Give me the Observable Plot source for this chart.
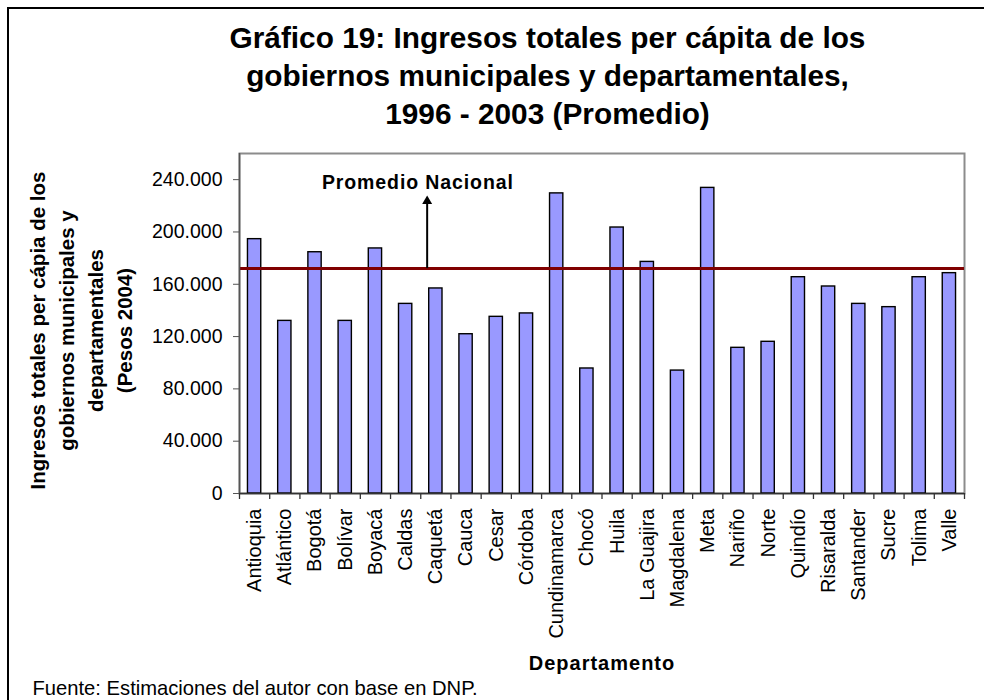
<!DOCTYPE html>
<html>
<head>
<meta charset="utf-8">
<script src="https://cdn.jsdelivr.net/npm/d3@7"></script>
<script src="https://cdn.jsdelivr.net/npm/@observablehq/plot@0.6"></script>
<style>
  html, body { margin: 0; padding: 0; background: #fff; }
  #chart svg { display: block; }
</style>
</head>
<body>
<div id="chart"></div>
<script>
// ---- Data ----
const departamentos = ["Antioquia", "Atlántico", "Bogotá", "Bolívar", "Boyacá", "Caldas", "Caquetá", "Cauca", "Cesar", "Córdoba", "Cundinamarca", "Chocó", "Huila", "La Guajira", "Magdalena", "Meta", "Nariño", "Norte", "Quindío", "Risaralda", "Santander", "Sucre", "Tolima", "Valle"];
const ingresosPerCapita = [194500, 132000, 184500, 132000, 187400, 145000, 156800, 121800, 135100, 137700, 229500, 95600, 203400, 177100, 94000, 233700, 111400, 116000, 165400, 158300, 145000, 142500, 165400, 168500];
const promedioNacional = 172000;
const yTicks = [0, 40000, 80000, 120000, 160000, 200000, 240000];
const yMax = 260000;

const titulo = "Gráfico 19: Ingresos totales per cápita de los\ngobiernos municipales y departamentales,\n1996 - 2003 (Promedio)";
const tituloY = "Ingresos totales per cápia de los\ngobiernos municipales y\ndepartamentales\n(Pesos 2004)";
const tituloX = "Departamento";
const etiquetaPromedio = "Promedio Nacional";
const fuente = "Fuente: Estimaciones del autor con base en DNP.";

const data = departamentos.map((d, i) => ({dept: d, value: ingresosPerCapita[i]}));

// ---- Layout ----
const W = 984, H = 700;
const mL = 239, mR = 20, mT = 153, mB = 207;
const step = (W - mL - mR) / departamentos.length;
const pxToY = yMax / (H - mT - mB);

const loc = d3.formatLocale({decimal: ",", thousands: ".", grouping: [3], currency: ["$", ""]});
const fmt = loc.format(",.0f");

const last = departamentos[departamentos.length - 1];
const arrowX = departamentos[6];

const chart = Plot.plot({
  width: W, height: H,
  marginLeft: mL, marginRight: mR, marginTop: mT, marginBottom: mB,
  x: {domain: departamentos, paddingInner: 0.56, paddingOuter: 0.28, round: false, axis: null},
  y: {domain: [0, yMax], axis: null},
  style: {fontFamily: "'Liberation Sans', Arial, sans-serif", fontSize: "19.5px", background: "white", color: "black", overflow: "visible"},
  marks: [
    Plot.frame({stroke: "#8c8c8c", strokeWidth: 2}),
    Plot.barY(data, {x: "dept", y: "value", fill: "#9999ff", stroke: "black", strokeWidth: 1.4}),
    Plot.ruleY([promedioNacional], {stroke: "#800000", strokeWidth: 3}),
    // y axis line
    Plot.ruleX([departamentos[0]], {y1: 0, y2: yMax, dx: -step / 2, stroke: "#555", strokeWidth: 1.5}),
    // x axis line
    Plot.ruleY([0], {stroke: "#333", strokeWidth: 1.5}),
    // x ticks at category boundaries
    Plot.ruleX(departamentos, {x: d => d, y1: 0, y2: -6 * pxToY, dx: -step / 2, stroke: "#333", strokeWidth: 1.3}),
    Plot.ruleX([last], {y1: 0, y2: -6 * pxToY, dx: step / 2, stroke: "#333", strokeWidth: 1.3}),
    Plot.axisY({ticks: yTicks, tickSize: 6, tickPadding: 11, tickFormat: fmt, label: null, stroke: "#555", fontSize: 19.5}),
    // x labels
    Plot.text(departamentos, {x: d => d, y: 0, text: d => d, rotate: -90, textAnchor: "end", lineAnchor: "middle", dy: 15, fontSize: 20}),
    // Promedio arrow
    Plot.ruleX([arrowX], {y1: promedioNacional, y2: 221800, dx: -8.7, stroke: "black", strokeWidth: 2}),
    Plot.dot([arrowX], {x: d => d, y: 223500, dx: -8.7, symbol: "triangle", r: 3.7, fill: "black", stroke: "none"}),
    Plot.text([etiquetaPromedio], {x: () => arrowX, y: 240000, text: d => d, dx: -18, dy: 3, fontWeight: "bold", fontSize: 19.5, lineAnchor: "middle"}),
    // Title
    Plot.text([titulo], {frameAnchor: "top", text: d => d, dx: -54.5, dy: -30, lineAnchor: "bottom", lineHeight: 1.26, fontSize: 29.8, fontWeight: "bold", textAnchor: "middle"}),
    // Y title
    Plot.text([tituloY], {frameAnchor: "left", text: d => d, dx: -160, dy: 7, rotate: -90, lineAnchor: "middle", lineHeight: 1.42, fontSize: 20.5, fontWeight: "bold", textAnchor: "middle"}),
    // X title
    Plot.text([tituloX], {frameAnchor: "bottom", text: d => d, dx: 0, dy: 176, lineAnchor: "bottom", fontSize: 20, fontWeight: "bold", textAnchor: "middle"}),
    // Source
    Plot.text([fuente], {frameAnchor: "bottom-left", text: d => d, dx: -207, dy: 201, lineAnchor: "bottom", fontSize: 20.2, textAnchor: "start"})
  ]
});

// Excel-like wide letter spacing on two bold labels
d3.select(chart).selectAll("text")
  .filter(function () { return this.textContent === tituloX; })
  .style("letter-spacing", "1px");
d3.select(chart).selectAll("text")
  .filter(function () { return this.textContent === etiquetaPromedio; })
  .style("letter-spacing", "0.9px");

// outer chart-area border (clipped at right/bottom)
d3.select(chart).insert("rect", ":first-child")
  .attr("x", 8).attr("y", 8).attr("width", 2000).attr("height", 2000)
  .attr("fill", "none").attr("stroke", "black").attr("stroke-width", 2);

document.getElementById("chart").appendChild(chart);
</script>
</body>
</html>
